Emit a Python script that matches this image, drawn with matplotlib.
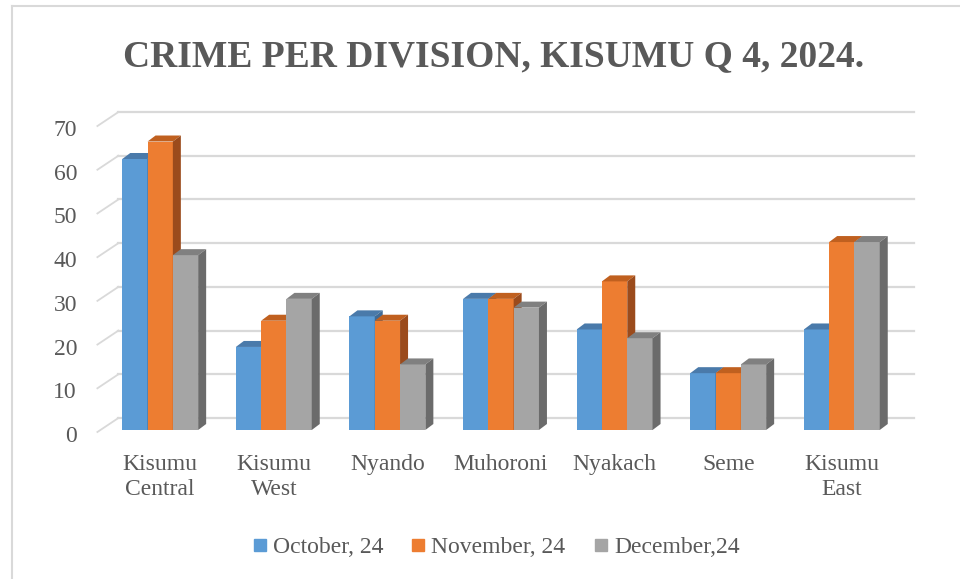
import matplotlib
matplotlib.use("Agg")
import matplotlib.pyplot as plt
from matplotlib.patches import Polygon
from matplotlib.lines import Line2D
from matplotlib.transforms import Affine2D
import numpy as np

# data
divisions = ["Kisumu\nCentral", "Kisumu\nWest", "Nyando", "Muhoroni",
             "Nyakach", "Seme", "Kisumu\nEast"]
october = [62, 19, 26, 30, 23, 13, 23]
november = [66, 25, 25, 30, 34, 13, 43]
december = [40, 30, 15, 28, 21, 15, 43]
series_names = ["October, 24", "November, 24", "December,24"]

# colours: front face, top face, side face
front_cols = ["#5B9BD5", "#ED7D31", "#A5A5A5"]
top_cols = ["#4A7AAA", "#C0601F", "#808080"]
side_cols = ["#3F6A95", "#9B4B1C", "#6B6B6B"]
text_col = "#595959"
grid_col = "#D9D9D9"

plt.rcParams['font.family'] = ['Liberation Serif', 'DejaVu Serif']

fig = plt.figure(figsize=(9.6, 5.79), dpi=100)
W, H = 960, 579

# axes = plane of the bar fronts
x_left, x_right = 103.4, 898.6
y_zero, px_unit = 430, 4.371
ax = fig.add_axes([x_left / W, (H - y_zero) / H,
                   (x_right - x_left) / W, 70 * px_unit / H])
ax.set_xlim(-0.5, 6.5)
ax.set_ylim(0, 70)
for s in ax.spines.values():
    s.set_visible(False)

px_x = (x_right - x_left) / 7.0
def ux(px):
    return px / px_x
def uy(px):
    return px / px_unit

# back wall gridlines and left diagonal ticks
back_dx, back_dy = ux(15), uy(12)
front_dx, front_dy = ux(-6), uy(-2)
for v in range(0, 80, 10):
    ax.plot([-0.5 + back_dx, 6.5 + back_dx], [v + back_dy, v + back_dy],
            color=grid_col, lw=1.6, zorder=1, clip_on=False)
    ax.plot([-0.5 + front_dx, -0.5 + back_dx], [v + front_dy, v + back_dy],
            color=grid_col, lw=1.3, zorder=1, clip_on=False)

# bars with pseudo 3d top and side faces
bw = 25.3 / px_x
ddx, ddy = ux(8), uy(6)
x = np.arange(len(divisions))
z = 3
for k, vals in enumerate([october, november, december]):
    bars = ax.bar(x + (k - 1) * bw, vals, width=bw, color=front_cols[k],
                  zorder=z, clip_on=False)
    for b in bars:
        x0, x1, h = b.get_x(), b.get_x() + b.get_width(), b.get_height()
        top = Polygon([(x0, h), (x1, h), (x1 + ddx, h + ddy), (x0 + ddx, h + ddy)],
                      closed=True, facecolor=top_cols[k], edgecolor="none",
                      zorder=z, clip_on=False)
        side = Polygon([(x1, 0), (x1 + ddx, ddy), (x1 + ddx, h + ddy), (x1, h)],
                       closed=True, facecolor=side_cols[k], edgecolor="none",
                       zorder=z, clip_on=False)
        ax.add_patch(top)
        ax.add_patch(side)
    z += 1

ax.set_yticks(range(0, 80, 10))
ax.set_yticklabels([str(v) for v in range(0, 80, 10)], fontsize=17, color=text_col)
ax.set_xticks(x)
ax.set_xticklabels(divisions, fontsize=17, color=text_col, linespacing=1.3)
ax.tick_params(axis='y', length=0, pad=19)
ax.tick_params(axis='x', length=0, pad=17)
for lab in ax.get_yticklabels():
    lab.set_transform(lab.get_transform() + Affine2D().translate(0, -4))

# title
fig.text(494 / W, 1 - 57 / H, "CRIME PER DIVISION, KISUMU Q 4, 2024.",
         fontsize=27, fontweight="bold", color=text_col,
         ha="center", va="center")

# legend
handles = [Line2D([], [], marker="s", linestyle="", markersize=8,
                  color=c) for c in front_cols]
fig.legend(handles, series_names, loc="center", ncol=3,
           bbox_to_anchor=(496 / W, 1 - 547 / H), frameon=False,
           fontsize=17, labelcolor=text_col, handlelength=0.6,
           handletextpad=0.25, columnspacing=1.2)

# chart area border (left and top visible)
fig.add_artist(Line2D([12 / W, 12 / W], [0, 1 - 6 / H], color=grid_col, lw=1.5))
fig.add_artist(Line2D([12 / W, 1], [1 - 6 / H, 1 - 6 / H], color=grid_col, lw=1.5))

fig.savefig("out.png", dpi=100, facecolor="white")
